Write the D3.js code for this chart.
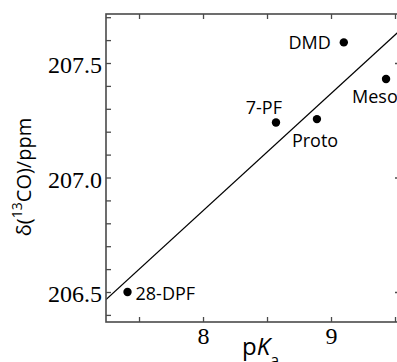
<!DOCTYPE html>
<html>
<head>
<meta charset="utf-8">
<script src="https://cdn.jsdelivr.net/npm/d3@7/dist/d3.min.js"></script>
<style>
html,body{margin:0;padding:0;background:#fff;}
svg{display:block;}
</style>
</head>
<body>
<svg id="chart" width="397" height="362"></svg>
<script>
// ---- data ----
const names = ["28-DPF", "7-PF", "Proto", "DMD", "Meso"];
const pKa   = [7.41, 8.57, 8.89, 9.10, 9.43];
const shift = [206.50, 207.24, 207.255, 207.59, 207.43];
const xMajorTicks = [8, 9];
const xAllTicks = [7.5, 8, 8.5, 9, 9.5];
const yMajorTicks = [206.5, 207.0, 207.5];
const yAllTicks = [206.4, 206.5, 206.6, 206.7, 206.8, 206.9, 207.0, 207.1, 207.2, 207.3, 207.4, 207.5, 207.6, 207.7];
const xDomain = [7.242, 9.539];
const yDomain = [206.369, 207.714];

// label offsets (style)
const labelPos = {
  "28-DPF": {dx: 8, dy: 8, anchor: "start"},
  "7-PF":   {dx: 6, dy: -9, anchor: "end"},
  "Proto":  {dx: -25, dy: 28, anchor: "start"},
  "DMD":    {dx: -13, dy: 7, anchor: "end"},
  "Meso":   {dx: -34, dy: 24, anchor: "start"}
};

const L = 106, R = 400, T = 14, B = 322;
const svg = d3.select("#chart");
const x = d3.scaleLinear().domain(xDomain).range([L, R]);
const y = d3.scaleLinear().domain(yDomain).range([B, T]);

const axisColor = "#4a4a4a";
const sans = "Open Sans";

svg.append("clipPath").attr("id", "clip")
  .append("rect").attr("x", L).attr("y", T).attr("width", R - L).attr("height", B - T);

// regression line (least squares from data)
const n = pKa.length;
const mx = d3.mean(pKa), my = d3.mean(shift);
let sxy = 0, sxx = 0;
for (let i = 0; i < n; i++) { sxy += (pKa[i]-mx)*(shift[i]-my); sxx += (pKa[i]-mx)**2; }
const slope = sxy / sxx, icpt = my - slope * mx;
const lineX = [xDomain[0], xDomain[1]];
svg.append("line")
  .attr("clip-path", "url(#clip)")
  .attr("x1", x(lineX[0])).attr("y1", y(icpt + slope*lineX[0]))
  .attr("x2", x(lineX[1])).attr("y2", y(icpt + slope*lineX[1]))
  .attr("stroke", "#000").attr("stroke-width", 1.2);

// axes
function styleAxis(g) {
  g.select(".domain").remove();
  g.attr("font-family", "Liberation Serif").attr("font-size", 24);
  g.selectAll(".tick line").attr("stroke", axisColor).attr("stroke-width", 1.3);
  g.selectAll(".tick text").attr("fill", "#000").attr("font-family", "Liberation Serif").attr("font-size", 24);
}
// bottom
svg.append("g").attr("transform", `translate(0,${B})`)
  .call(d3.axisBottom(x).tickValues(xAllTicks).tickSizeInner(-5).tickSizeOuter(0).tickFormat(""))
  .call(styleAxis);
svg.append("g").attr("transform", `translate(0,${B})`)
  .call(d3.axisBottom(x).tickValues(xMajorTicks).tickSize(0).tickPadding(5).tickFormat(d3.format("d")))
  .call(styleAxis);
// top
svg.append("g").attr("transform", `translate(0,${T})`)
  .call(d3.axisTop(x).tickValues(xAllTicks).tickSizeInner(-5).tickSizeOuter(0).tickFormat(""))
  .call(styleAxis);
// left
svg.append("g").attr("transform", `translate(${L},0)`)
  .call(d3.axisLeft(y).tickValues(yAllTicks).tickSizeInner(-5).tickSizeOuter(0).tickFormat(""))
  .call(styleAxis);
svg.append("g").attr("transform", `translate(${L},0)`)
  .call(d3.axisLeft(y).tickValues(yMajorTicks).tickSize(0).tickPadding(4).tickFormat(d3.format(".1f")))
  .call(styleAxis)
  .selectAll(".tick text").attr("dy", "0.4em");
// right
svg.append("g").attr("transform", `translate(${R},0)`)
  .call(d3.axisRight(y).tickValues(yMajorTicks).tickSizeInner(-5).tickSizeOuter(0).tickFormat(""))
  .call(styleAxis);

// frame
svg.append("rect").attr("x", L).attr("y", T).attr("width", R - L).attr("height", B - T)
  .attr("fill", "none").attr("stroke", axisColor).attr("stroke-width", 1.6);

// points
const pts = names.map((nm, i) => ({name: nm, x: pKa[i], y: shift[i]}));
svg.append("g").selectAll("circle").data(pts).join("circle")
  .attr("cx", d => x(d.x)).attr("cy", d => y(d.y)).attr("r", 4.2).attr("fill", "#000");

svg.append("g").selectAll("text").data(pts).join("text")
  .attr("x", d => x(d.x) + labelPos[d.name].dx)
  .attr("y", d => y(d.y) + labelPos[d.name].dy)
  .attr("text-anchor", d => labelPos[d.name].anchor)
  .attr("font-family", sans).attr("font-size", 18).attr("fill", "#000")
  .text(d => d.name);

// axis titles
const yl = svg.append("text")
  .attr("transform", "translate(31,177) rotate(-90)")
  .attr("text-anchor", "middle")
  .attr("font-family", sans).attr("font-size", 20).attr("fill", "#000");
yl.append("tspan").text("δ(");
yl.append("tspan").attr("baseline-shift", "super").attr("font-size", 14).text("13");
yl.append("tspan").text("CO)/ppm");

const xl = svg.append("text")
  .attr("x", 242).attr("y", 355)
  .attr("text-anchor", "start")
  .attr("font-family", sans).attr("font-size", 24).attr("fill", "#000");
xl.append("tspan").text("p");
xl.append("tspan").attr("font-style", "italic").text("K");
xl.append("tspan").attr("baseline-shift", "sub").attr("font-size", 16).text("a");
</script>
</body>
</html>
